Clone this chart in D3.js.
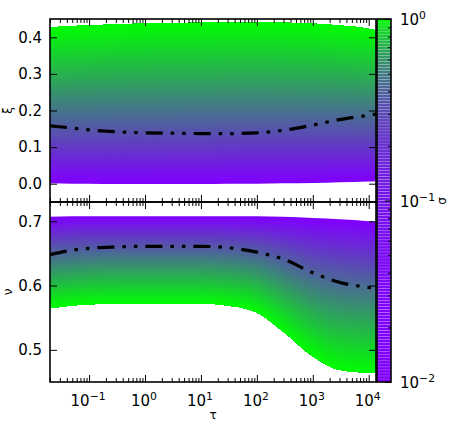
<!DOCTYPE html>
<html>
<head>
<meta charset="utf-8">
<script src="https://cdn.jsdelivr.net/npm/d3@7"></script>
<style>
  body { margin: 0; background: #fff; }
  svg text { font-family: "DejaVu Sans"; }
</style>
</head>
<body>
<div id="chart"></div>
<script>
// values
const tau    = [0.02, 0.05, 0.1, 0.3, 1, 3, 10, 30, 100, 300, 1000, 3000, 10000, 13500];
const xiMean = [0.158, 0.152, 0.147, 0.142, 0.139, 0.138, 0.137, 0.137, 0.139, 0.146, 0.160, 0.175, 0.187, 0.190];
const xiLow  = [0.001, 0.000, 0.000, -0.001, -0.001, -0.001, -0.001, 0.000, 0.000, 0.001, 0.002, 0.004, 0.006, 0.007];
const xiHigh = [0.427, 0.430, 0.432, 0.435, 0.437, 0.439, 0.440, 0.441, 0.442, 0.440, 0.437, 0.432, 0.423, 0.419];
const nuMean = [0.648, 0.655, 0.658, 0.660, 0.661, 0.661, 0.661, 0.659, 0.652, 0.641, 0.620, 0.605, 0.597, 0.595];
const nuLow  = [0.565, 0.569, 0.571, 0.572, 0.572, 0.572, 0.572, 0.569, 0.558, 0.528, 0.490, 0.469, 0.4645, 0.464];
const nuHigh = [0.707, 0.708, 0.708, 0.708, 0.708, 0.708, 0.708, 0.708, 0.708, 0.707, 0.705, 0.703, 0.700, 0.699];

const xiTicks = [0.0, 0.1, 0.2, 0.3, 0.4];
const nuTicks = [0.5, 0.6, 0.7];
const tauMajor = [0.1, 1, 10, 100, 1000, 10000];
const sigmaMajor = [0.01, 0.1, 1];

const W = 457, H = 422;
const left = 50, right = 376;
const top1 = 19, bot1 = 202, top2 = 202, bot2 = 382;
const fs = 15;

const svg = d3.select("#chart").append("svg")
    .attr("width", W).attr("height", H);

const x = d3.scaleLog().domain([0.02, 13500]).range([left, right]);
const yXi = d3.scaleLinear().domain([-0.05, 0.45]).range([bot1, top1]);
const yNu = d3.scaleLinear().domain([0.45, 0.73]).range([bot2, top2]);

const cmap = d3.interpolateRgb("#8000ff", "#00ff00");

const tauMinor = x.ticks().filter(t => !tauMajor.some(m => Math.abs(m - t) / m < 1e-6));

// clip paths for both panels
const defs = svg.append("defs");
defs.append("clipPath").attr("id", "clip1").append("rect")
    .attr("x", left).attr("y", top1).attr("width", right - left).attr("height", bot1 - top1);
defs.append("clipPath").attr("id", "clip2").append("rect")
    .attr("x", left).attr("y", top2).attr("width", right - left).attr("height", bot2 - top2);

const N = 90;
const levels = d3.range(N + 1).map(i => i / N);

function drawBand(clip, y, low, high, mean, greenTop) {
    const g = svg.append("g").attr("clip-path", `url(#${clip})`);
    // stacked stripes: each painted from its level out to the far edge
    levels.forEach(f => {
        const area = d3.area()
            .x((d, i) => x(tau[i]))
            .curve(d3.curveMonotoneX);
        if (greenTop) {
            area.y0((d, i) => y(low[i] + (high[i] - low[i]) * f))
                .y1((d, i) => y(high[i]));
        } else {
            area.y0((d, i) => y(high[i] - (high[i] - low[i]) * f))
                .y1((d, i) => y(low[i]));
        }
        g.append("path").datum(tau)
            .attr("d", area)
            .attr("fill", cmap(f));
    });
    const line = d3.line()
        .x((d, i) => x(tau[i]))
        .y(d => y(d))
        .curve(d3.curveMonotoneX);
    g.append("path").datum(mean)
        .attr("d", line)
        .attr("fill", "none")
        .attr("stroke", "#000")
        .attr("stroke-width", 3.2)
        .attr("stroke-dasharray", "17,8,3.5,8,3.5,8");
}

drawBand("clip1", yXi, xiLow, xiHigh, xiMean, true);
drawBand("clip2", yNu, nuLow, nuHigh, nuMean, false);

function frame(y0, y1, y, yt) {
    // x ticks inward on top and bottom
    const gb = svg.append("g").attr("transform", `translate(0,${y1})`);
    gb.call(d3.axisBottom(x).tickValues(tauMajor).tickSize(-7).tickFormat(""));
    gb.append("g").call(d3.axisBottom(x).tickValues(tauMinor).tickSize(-4).tickFormat(""));
    const gt = svg.append("g").attr("transform", `translate(0,${y0})`);
    gt.call(d3.axisTop(x).tickValues(tauMajor).tickSize(-7).tickFormat(""));
    gt.append("g").call(d3.axisTop(x).tickValues(tauMinor).tickSize(-4).tickFormat(""));
    // y ticks inward on left and right
    const gl = svg.append("g").attr("transform", `translate(${left},0)`)
        .call(d3.axisLeft(y).tickValues(yt).tickSize(-7).tickPadding(8).tickFormat(d3.format(".1f")));
    gl.attr("font-size", fs).attr("font-family", "DejaVu Sans");
    gl.selectAll("text").attr("fill", "#000");
    svg.append("g").attr("transform", `translate(${right},0)`)
        .call(d3.axisRight(y).tickValues(yt).tickSize(-7).tickFormat(""));
    svg.selectAll(".domain").remove();
    svg.selectAll(".tick line").attr("stroke", "#000").attr("stroke-width", 1);
    svg.append("rect")
        .attr("x", left).attr("y", y0)
        .attr("width", right - left).attr("height", y1 - y0)
        .attr("fill", "none").attr("stroke", "#000").attr("stroke-width", 1.6);
}

frame(top1, bot1, yXi, xiTicks);
frame(top2, bot2, yNu, nuTicks);

function sup(sel, exp) {
    sel.append("tspan").text("10");
    sel.append("tspan").attr("dy", "-0.55em").attr("font-size", "0.72em").text(exp);
}

// tau tick labels
tauMajor.forEach(t => {
    const e = Math.round(Math.log10(t));
    const txt = svg.append("text")
        .attr("x", x(t) - 1).attr("y", 406)
        .attr("text-anchor", "middle")
        .attr("font-family", "DejaVu Sans")
        .attr("font-size", fs);
    sup(txt, e < 0 ? "\u2212" + (-e) : String(e));
});

// axis labels
svg.append("text").attr("x", (left + right) / 2).attr("y", 419)
    .attr("text-anchor", "middle").attr("font-size", 12).text("\u03c4");
svg.append("text").attr("transform", `translate(12,${(top1 + bot1) / 2}) rotate(-90)`)
    .attr("text-anchor", "middle").attr("font-size", 12).text("\u03be");
svg.append("text").attr("transform", `translate(12,${(top2 + bot2) / 2}) rotate(-90)`)
    .attr("text-anchor", "middle").attr("font-size", 12).text("\u03bd");

// colorbar
const cbL = 377, cbR = 391;
const s = d3.scaleLog().domain([0.01, 1]).range([bot2, top1]);
const M = 120;
const cbLev = d3.range(M).map(i => Math.pow(10, -2 + 2 * i / M));
const cb = svg.append("g");
cbLev.forEach((v, i) => {
    const v2 = Math.pow(10, -2 + 2 * (i + 1) / M);
    cb.append("rect")
        .attr("x", cbL).attr("width", cbR - cbL)
        .attr("y", s(v2)).attr("height", s(v) - s(v2))
        .attr("fill", cmap((v - 0.01) / 0.99))
        .attr("stroke", "#fff").attr("stroke-opacity", 0.25).attr("stroke-width", 0.5);
});
const sigMinor = s.ticks().filter(t => !sigmaMajor.some(m => Math.abs(m - t) / m < 1e-6));
svg.append("g").attr("transform", `translate(${cbR},0)`)
    .call(d3.axisRight(s).tickValues(sigMinor).tickSize(-3).tickFormat(""));
svg.append("g").attr("transform", `translate(${cbR},0)`)
    .call(d3.axisRight(s).tickValues(sigmaMajor).tickSize(-6).tickFormat(""));
svg.selectAll(".domain").remove();
svg.selectAll(".tick line").attr("stroke", "#000").attr("stroke-width", 1);
svg.append("rect")
    .attr("x", cbL).attr("y", top1).attr("width", cbR - cbL).attr("height", bot2 - top1)
    .attr("fill", "none").attr("stroke", "#000").attr("stroke-width", 1.6);

sigmaMajor.forEach(v => {
    const e = Math.round(Math.log10(v));
    const txt = svg.append("text")
        .attr("x", 400).attr("y", s(v) + 6)
        .attr("font-family", "DejaVu Sans")
        .attr("font-size", fs);
    sup(txt, e < 0 ? "\u2212" + (-e) : String(e));
});
svg.append("text").attr("transform", `translate(446,201) rotate(-90)`)
    .attr("text-anchor", "middle").attr("font-size", 12).text("\u03c3");
</script>
</body>
</html>
